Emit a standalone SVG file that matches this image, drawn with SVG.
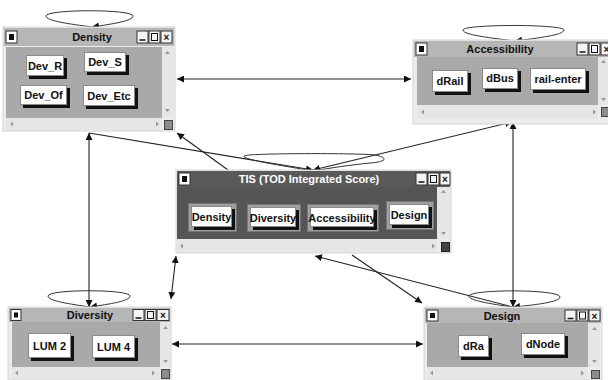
<svg xmlns="http://www.w3.org/2000/svg" width="608" height="380" viewBox="0 0 608 380">
<defs>
<marker id="ah" viewBox="0 0 10 10" refX="10" refY="5" markerWidth="7" markerHeight="7" orient="auto-start-reverse" markerUnits="userSpaceOnUse"><path d="M0,0 L10,5 L0,10 z" fill="#111"/></marker>
</defs>
<style>
.win{fill:#ececec;stroke:#d4d4d4;stroke-width:1}
.tb{fill:#b6b6b6}
.tbd{fill:#5a5a5a}
.ttl{font-family:"Liberation Sans",Arial,sans-serif;font-weight:bold;font-size:11px;text-anchor:middle;fill:#111}
.ttlw{font-family:"Liberation Sans",Arial,sans-serif;font-weight:bold;font-size:11px;text-anchor:middle;fill:#fff}
.ico{fill:#fff;stroke:#333;stroke-width:1}
.icoi{fill:#111}
.ctl{fill:#f4f4f4;stroke:#333;stroke-width:1}
.us{stroke:#111;stroke-width:1.5}
.cg{fill:#a9a9a9}
.cd{fill:#555}
.sb{fill:#e6e6e6}
.sa{fill:#999}
.cor{fill:#8c8c8c;stroke:#444;stroke-width:1}
.cord{fill:#444;stroke:#222;stroke-width:1}
.sh{fill:#111}
.bf{fill:#fff;stroke:#8a8a8a;stroke-width:1}
.fr{fill:#a0a0a0;stroke:#777;stroke-width:1}
.bt{font-family:"Liberation Sans",Arial,sans-serif;font-weight:bold;font-size:11px;text-anchor:middle;fill:#111}
.e{fill:none;stroke:#222;stroke-width:1.1}
.lp{fill:none;stroke:#333;stroke-width:1}
.gl{font-family:"Liberation Sans",Arial,sans-serif;font-size:10px;fill:#111;text-anchor:middle}
</style>

<g id="connectors">
<path class="e" d="M177,79 L411,79" marker-start="url(#ah)" marker-end="url(#ah)"/>
<path class="e" d="M89,133 L89,307" marker-start="url(#ah)" marker-end="url(#ah)"/>
<path class="e" d="M513,122 L513,307" marker-start="url(#ah)" marker-end="url(#ah)"/>
<path class="e" d="M172,344 L423,344" marker-start="url(#ah)" marker-end="url(#ah)"/>
<path class="e" d="M176,256 L171,299" marker-start="url(#ah)" marker-end="url(#ah)"/>
<path class="e" d="M228,170 L177,133" marker-end="url(#ah)"/>
<path class="e" d="M89,133 L313,170" marker-end="url(#ah)"/>
<path class="e" d="M313,170 L512,122" marker-start="url(#ah)" marker-end="url(#ah)"/>
<path class="e" d="M352,255 L422,303" marker-end="url(#ah)"/>
<path class="e" d="M513,307 L315,256" marker-end="url(#ah)"/>
<path class="lp" d="M92,27 C70,24 46,21 46,16 C46,9 133,9 133,16 C133,21 112,24 92,27" marker-end="url(#ah)"/>
<path class="lp" d="M515,41 C492,38 463,35 463,30 C463,24 564,24 564,30 C564,35 538,38 515,41" marker-end="url(#ah)"/>
<path class="lp" d="M313,171 C285,166 243,160 244,156 C246,153 360,153 375,155 C390,158 385,162 370,163 C350,165 330,168 313,171" marker-end="url(#ah)"/>
<path class="lp" d="M90,307 C70,304 48,301 48,296 C48,289 130,289 130,296 C130,301 110,304 90,307" marker-end="url(#ah)"/>
<path class="lp" d="M513,307 C490,304 468,300 469,296 C470,289 560,289 560,297 C560,302 535,305 513,307" marker-end="url(#ah)"/>
</g>

<g id="density">
<rect class="win" x="3" y="27" width="172" height="104"/>
<rect class="tb" x="4" y="28" width="170" height="18"/>
<rect class="ico" x="6" y="31" width="11" height="12"/><rect class="icoi" x="9" y="34" width="5" height="6"/>
<rect class="ctl" x="137" y="31" width="11" height="12"/><rect class="ctl" x="149" y="31" width="11" height="12"/><rect class="ctl" x="161" y="31" width="11" height="12"/>
<path class="us" d="M139.5,40 L145.5,40"/><rect x="151.5" y="33.5" width="6" height="7" fill="none" stroke="#111"/><text class="gl" x="166.5" y="41" font-weight="bold">×</text>
<text class="ttl" x="92" y="41">Density</text>
<rect class="cg" x="6" y="47" width="156" height="71"/>
<rect class="sb" x="162" y="47" width="11" height="71"/>
<path class="sa" d="M165,54 L167.5,51 L170,54 z M165,109 L167.5,112 L170,109 z"/>
<rect class="sb" x="6" y="118" width="156" height="12"/>
<path class="sa" d="M13,121.5 L10,124 L13,126.5 z M156,121.5 L159,124 L156,126.5 z"/>
<rect class="cor" x="164.5" y="120.5" width="8" height="9"/>
<rect class="sh" x="29" y="58" width="38" height="21"/><rect class="bf" x="26.5" y="55.5" width="37" height="20"/><text class="bt" x="45" y="70">Dev_R</text>
<rect class="sh" x="87" y="55" width="42" height="20"/><rect class="bf" x="84.5" y="52.5" width="41" height="19"/><text class="bt" x="105" y="66">Dev_S</text>
<rect class="sh" x="23" y="88" width="47" height="20"/><rect class="bf" x="20.5" y="85.5" width="46" height="19"/><text class="bt" x="43.5" y="99">Dev_Of</text>
<rect class="sh" x="86" y="88" width="52" height="21"/><rect class="bf" x="83.5" y="85.5" width="51" height="20"/><text class="bt" x="109" y="100">Dev_Etc</text>
</g>

<g id="accessibility">
<rect class="win" x="413" y="40" width="200" height="84"/>
<rect class="tb" x="414" y="41" width="194" height="16"/>
<rect class="ico" x="416" y="43" width="11" height="12"/><rect class="icoi" x="419" y="46" width="5" height="6"/>
<rect class="ctl" x="577" y="43" width="11" height="12"/><rect class="ctl" x="589" y="43" width="11" height="12"/><rect class="ctl" x="601" y="43" width="11" height="12"/>
<path class="us" d="M579.5,52 L585.5,52"/><rect x="591.5" y="45.5" width="6" height="7" fill="none" stroke="#111"/><text class="gl" x="606.5" y="53" font-weight="bold">×</text>
<text class="ttl" x="500" y="53">Accessibility</text>
<rect class="cg" x="417" y="57" width="181" height="48"/>
<rect class="sb" x="598" y="57" width="11" height="48"/>
<path class="sa" d="M601,63 L603.5,60 L606,63 z M601,98 L603.5,101 L606,98 z"/>
<rect class="sb" x="417" y="105" width="181" height="14"/>
<path class="sa" d="M424,109.5 L421,112 L424,114.5 z M593,109.5 L596,112 L593,114.5 z"/>
<rect class="cor" x="601.5" y="107.5" width="8" height="9"/>
<rect class="sh" x="435" y="73" width="36" height="22"/><rect class="bf" x="432.5" y="70.5" width="35" height="21"/><text class="bt" x="450" y="85">dRail</text>
<rect class="sh" x="485" y="71" width="36" height="21"/><rect class="bf" x="482.5" y="68.5" width="35" height="20"/><text class="bt" x="500" y="82">dBus</text>
<rect class="sh" x="533" y="71" width="56" height="22"/><rect class="bf" x="530.5" y="68.5" width="55" height="21"/><text class="bt" x="558" y="83">rail-enter</text>
</g>

<g id="tis">
<rect class="win" x="176" y="170" width="275" height="83"/>
<rect class="tbd" x="177" y="171" width="273" height="16"/>
<rect class="ico" x="179" y="173" width="11" height="12"/><rect class="icoi" x="182" y="176" width="5" height="6"/>
<rect class="ctl" x="416" y="173" width="11" height="12"/><rect class="ctl" x="428" y="173" width="11" height="12"/><rect class="ctl" x="440" y="173" width="10" height="12"/>
<path class="us" d="M418.5,182 L424.5,182"/><rect x="430.5" y="175.5" width="6" height="7" fill="none" stroke="#111"/><text class="gl" x="445" y="183" font-weight="bold">×</text>
<text class="ttlw" x="309" y="183">TIS (TOD Integrated Score)</text>
<rect class="cd" x="177" y="187" width="260" height="52"/>
<rect class="sb" x="437" y="187" width="13" height="52"/>
<path class="sa" d="M441,193 L443.5,190 L446,193 z M441,232 L443.5,235 L446,232 z"/>
<rect class="sb" x="177" y="239" width="260" height="13"/>
<path class="sa" d="M183,243.5 L180,246 L183,248.5 z M432,243.5 L435,246 L432,248.5 z"/>
<rect class="cord" x="441.5" y="242.5" width="8" height="9"/>
<rect class="fr" x="188.5" y="203.5" width="48" height="28"/><rect class="sh" x="194" y="209" width="41" height="21"/><rect class="bf" x="191.5" y="206.5" width="40" height="20"/><text class="bt" x="211.5" y="221" font-size="10.5">Density</text>
<rect class="fr" x="247.5" y="204.5" width="53" height="27"/><rect class="sh" x="253" y="210" width="46" height="20"/><rect class="bf" x="250.5" y="207.5" width="45" height="19"/><text class="bt" x="273" y="221.5" font-size="10.5">Diversity</text>
<rect class="fr" x="307.5" y="204.5" width="71" height="27"/><rect class="sh" x="313" y="210" width="64" height="20"/><rect class="bf" x="310.5" y="207.5" width="63" height="19"/><text class="bt" x="342" y="221.5" font-size="10.5">Accessibility</text>
<rect class="fr" x="386.5" y="201.5" width="47" height="28"/><rect class="sh" x="392" y="207" width="40" height="21"/><rect class="bf" x="389.5" y="204.5" width="39" height="20"/><text class="bt" x="409" y="219" font-size="10.5">Design</text>
</g>

<g id="diversity">
<rect class="win" x="8" y="307" width="163" height="73"/>
<rect class="tb" x="9" y="308" width="161" height="14"/>
<rect class="ico" x="11" y="309.5" width="10" height="11"/><rect class="icoi" x="14" y="312.5" width="4" height="5"/>
<rect class="ctl" x="133" y="309.5" width="11" height="11"/><rect class="ctl" x="145" y="309.5" width="11" height="11"/><rect class="ctl" x="157" y="309.5" width="12" height="11"/>
<path class="us" d="M135.5,318 L141.5,318"/><rect x="147.5" y="311.5" width="6" height="7" fill="none" stroke="#111"/><text class="gl" x="163" y="319" font-weight="bold">×</text>
<text class="ttl" x="90" y="319">Diversity</text>
<rect class="cg" x="12" y="322" width="148" height="45"/>
<rect class="sb" x="160" y="322" width="10" height="45"/>
<path class="sa" d="M163,329 L165.5,326 L168,329 z M163,360 L165.5,363 L168,360 z"/>
<rect class="sb" x="12" y="367" width="148" height="12"/>
<path class="sa" d="M18,370.5 L15,373 L18,375.5 z M152,370.5 L155,373 L152,375.5 z"/>
<rect class="cor" x="161.5" y="369.5" width="8" height="9"/>
<rect class="sh" x="31" y="336" width="43" height="25"/><rect class="bf" x="28.5" y="333.5" width="42" height="24"/><text class="bt" x="49.5" y="349.5">LUM 2</text>
<rect class="sh" x="95" y="338" width="43" height="23"/><rect class="bf" x="92.5" y="335.5" width="42" height="22"/><text class="bt" x="113.5" y="351">LUM 4</text>
</g>

<g id="design">
<rect class="win" x="424" y="307" width="178" height="73"/>
<rect class="tb" x="425" y="308" width="176" height="15"/>
<rect class="ico" x="427" y="310" width="11" height="11"/><rect class="icoi" x="430" y="313" width="5" height="5"/>
<rect class="ctl" x="565" y="310" width="11" height="11"/><rect class="ctl" x="577" y="310" width="11" height="11"/><rect class="ctl" x="589" y="310" width="11" height="11"/>
<path class="us" d="M567.5,318.5 L573.5,318.5"/><rect x="579.5" y="312" width="6" height="7" fill="none" stroke="#111"/><text class="gl" x="594.5" y="319.5" font-weight="bold">×</text>
<text class="ttl" x="502" y="320">Design</text>
<rect class="cg" x="427" y="323" width="161" height="44"/>
<rect class="sb" x="588" y="323" width="12" height="44"/>
<path class="sa" d="M592,330 L594.5,327 L597,330 z M592,360 L594.5,363 L597,360 z"/>
<rect class="sb" x="427" y="367" width="161" height="12"/>
<path class="sa" d="M433,370.5 L430,373 L433,375.5 z M581,370.5 L584,373 L581,375.5 z"/>
<rect class="cor" x="591.5" y="370.5" width="8" height="8"/>
<rect class="sh" x="461" y="338" width="31" height="22"/><rect class="bf" x="458.5" y="335.5" width="30" height="21"/><text class="bt" x="473.5" y="350">dRa</text>
<rect class="sh" x="524" y="336" width="44" height="22"/><rect class="bf" x="521.5" y="333.5" width="43" height="21"/><text class="bt" x="543" y="348">dNode</text>
</g>
</svg>
